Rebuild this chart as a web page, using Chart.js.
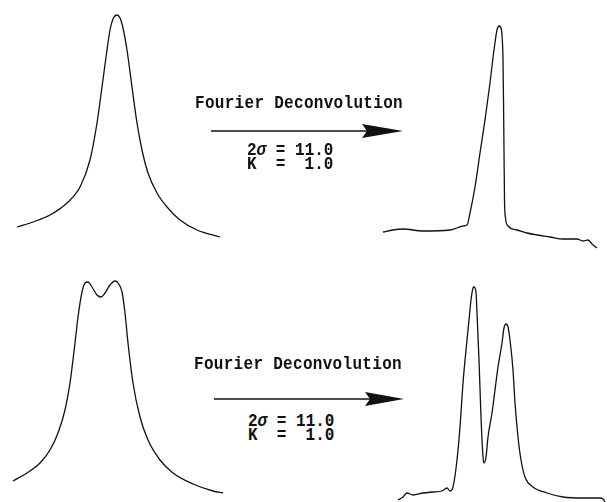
<!DOCTYPE html>
<html>
<head>
<meta charset="utf-8">
<script src="https://cdn.jsdelivr.net/npm/chart.js@4.4.0/dist/chart.umd.min.js"></script>
<style>
    html, body { margin: 0; padding: 0; background: #fff; }
    #figure { position: relative; width: 607px; height: 502px; overflow: hidden; background: #fff; }
    .panel { position: absolute; }
    .label {
        position: absolute;
        font-family: "Liberation Mono", "DejaVu Sans Mono", monospace;
        font-weight: bold;
        font-size: 16px;
        line-height: 16px;
        color: #111;
        white-space: pre;
        transform: scaleY(1.12);
        transform-origin: left top;
    }
    .title { letter-spacing: 0.3px; }
    .params { line-height: 12px; }
    svg { position: absolute; left: 0; top: 0; }
</style>
</head>
<body>
<div id="figure">
    <div class="panel" style="left:10px; top:4px;"><canvas id="topRaw" width="220" height="240"></canvas></div>
    <div class="panel" style="left:375px; top:4px;"><canvas id="topDeconv" width="232" height="246"></canvas></div>
    <div class="panel" style="left:8px; top:270px;"><canvas id="bottomRaw" width="222" height="230"></canvas></div>
    <div class="panel" style="left:395px; top:270px;"><canvas id="bottomDeconv" width="212" height="235"></canvas></div>

    <div class="label title" style="left:195px; top:95px;">Fourier Deconvolution</div>
    <div class="label params" style="left:247px; top:144px;">2<i>σ</i> = 11.0
K  =  1.0</div>
    <div class="label title" style="left:194px; top:356px;">Fourier Deconvolution</div>
    <div class="label params" style="left:248px; top:415px;">2<i>σ</i> = 11.0
K  =  1.0</div>

    <svg width="607" height="502">
        <line x1="211" y1="131" x2="368" y2="131" stroke="#111" stroke-width="1.6"/>
        <polygon points="362,124 403,131 362,138 367,131" fill="#111"/>
        <line x1="214" y1="399" x2="370" y2="399" stroke="#111" stroke-width="1.6"/>
        <polygon points="365,392 404,399 365,406 370,399" fill="#111"/>
    </svg>
</div>

<script>
// Spectres (unités arbitraires : position, intensité)
const topRawX = [7, 23, 40, 57, 70, 80, 87, 92, 97, 100, 103, 107, 110, 113, 117, 122, 127, 132, 138, 147, 157, 170, 187, 210];
const topRawY = [17, 22, 29, 41, 57, 84, 121, 157, 194, 214, 225, 229, 226, 216, 194, 157, 121, 94, 71, 51, 37, 24, 14, 7];

const topDeconvX = [8, 18, 28, 48, 75, 82, 88, 92, 95, 100, 105, 110, 115, 119, 122, 124, 126, 127, 128, 128.5, 129, 129.5, 130.5, 133, 142, 152, 162, 175, 188, 202, 208, 213, 218, 222];
const topDeconvY = [18, 20, 21, 19, 20, 22, 24, 25, 37, 63, 97, 130, 167, 200, 220, 224, 222, 215, 190, 150, 100, 50, 32, 24, 20, 17, 15, 13, 11, 11, 9, 10, 5, 2];

const bottomRawX = [5, 19, 32, 42, 50, 57, 62, 67, 70, 74, 77, 80, 84, 89, 93, 97, 102, 107, 110, 114, 117, 120, 125, 132, 140, 152, 165, 185, 205, 215];
const bottomRawY = [19, 27, 37, 50, 67, 90, 117, 157, 183, 208, 217, 218, 213, 205, 203, 207, 215, 219, 217, 208, 187, 157, 117, 83, 60, 40, 27, 16, 9, 7];

const bottomDeconvX = [3, 8, 12, 18, 28, 38, 47, 52, 55, 58, 62, 65, 68, 72, 74, 76, 78, 79, 81, 82, 84, 86, 88, 89, 91, 93, 97, 100, 103, 107, 109, 111, 113, 115, 118, 120, 123, 126, 130, 138, 152, 168, 188, 198, 205, 208, 210];
const bottomDeconvY = [5, 8, 12, 10, 12, 13, 14, 17, 14, 18, 45, 78, 122, 165, 185, 205, 217, 218, 213, 192, 145, 88, 48, 42, 48, 68, 92, 115, 138, 162, 177, 181, 178, 165, 135, 102, 68, 45, 28, 18, 12, 8, 7, 7, 7, 6, 3];

// Un petit graphique sans axes pour chaque spectre
function drawSpectrum(id, xs, ys) {
    const canvas = document.getElementById(id);
    const points = xs.map((x, i) => ({ x: x, y: ys[i] }));
    new Chart(canvas.getContext('2d'), {
        type: 'scatter',
        data: {
            datasets: [{
                data: points,
                showLine: true,
                borderColor: '#111',
                borderWidth: 1.3,
                pointRadius: 0,
                fill: false,
                clip: false,
                cubicInterpolationMode: 'monotone'
            }]
        },
        options: {
            responsive: false,
            animation: false,
            layout: { padding: 0 },
            scales: {
                x: { type: 'linear', display: false, min: 0, max: canvas.width },
                y: { type: 'linear', display: false, min: 0, max: canvas.height }
            },
            plugins: {
                legend: { display: false },
                tooltip: { enabled: false }
            }
        }
    });
}

document.addEventListener('DOMContentLoaded', function() {
    drawSpectrum('topRaw', topRawX, topRawY);
    drawSpectrum('topDeconv', topDeconvX, topDeconvY);
    drawSpectrum('bottomRaw', bottomRawX, bottomRawY);
    drawSpectrum('bottomDeconv', bottomDeconvX, bottomDeconvY);
});
</script>
</body>
</html>
